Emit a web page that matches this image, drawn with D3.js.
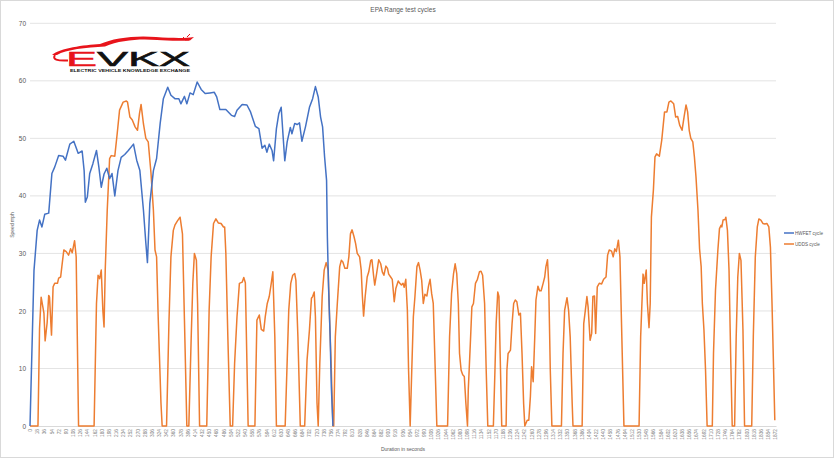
<!DOCTYPE html>
<html>
<head>
<meta charset="utf-8">
<script src="https://cdn.jsdelivr.net/npm/d3@7"></script>
<style>
  body { margin: 0; background: #fff; }
  text { font-family: "Liberation Sans", Arial, sans-serif; }
</style>
</head>
<body>
<div id="chart"></div>
<script>
// values: [seconds, mph]
const hwfet = [
  [0,0],[10,27],[18,34],[24,35.8],[30,34.6],[37,36.8],[47,37],[55,43.9],[62,45],[72,47],[83,46.9],[89,46.2],
  [100,49],[110,49.5],[121,47.4],[131,47.8],[136,44.4],[139,38.9],[144,39.8],[150,43.9],[158,45.6],[167,47.9],
  [173,45],[179,41.5],[186,43.8],[193,44.8],[200,43],[206,43.9],[213,40],[221,44.4],[229,46.7],[238,47.2],
  [247,47.9],[260,49],[268,46.2],[276,44.4],[285,37.5],[291,31.8],[295,28.4],[301,38.7],[310,44.4],[318,46.5],
  [327,52.6],[335,56.9],[346,58.9],[354,57.5],[364,56.9],[374,56.9],[379,56],[388,57.3],[394,56],[402,57.9],
  [410,57.6],[420,59.8],[430,58.5],[440,57.8],[452,57.9],[463,58],[469,57.2],[477,55],[492,55],[506,54],
  [514,53.8],[520,54.9],[533,55.9],[545,55.8],[554,54.6],[566,52.1],[575,51.7],[583,48.3],[590,48.8],[595,47.6],
  [601,49],[608,47.9],[612,46.1],[619,51.7],[625,54.3],[631,55.4],[636,50.2],[640,46.1],[646,49.4],[654,51.9],
  [658,50.8],[665,52.6],[671,52.4],[677,52.7],[683,49.5],[692,52],[702,55.4],[710,56.9],[717,59],[724,57.2],
  [730,53.7],[735,52],[740,46.8],[745,42.7],[747,32.9],[750,24.2],[754,15.5],[757,6.8],[761,0]
];

const udds = [
  [0,0],[20,0],[24,17],[28,22.4],[35,19.6],[38,14.8],[43,17.9],[47,22.7],[49,22.4],[54,15.8],[58,24.2],[62,24.8],
  [69,24.8],[72,25.7],[77,25.9],[80,27.7],[85,30.6],[91,30.3],[97,29.7],[102,30.8],[106,30.1],[112,32.2],[116,29.4],
  [122,0],[161,0],[167,21.3],[171,26.2],[175,25.6],[179,27.1],[183,20.1],[186,17.2],[189,27.1],[194,37.5],[200,46.5],
  [204,47],[213,46.9],[219,50.8],[225,54.9],[234,56.3],[242,56.5],[245,56.3],[251,53.7],[257,53.2],[264,52],
  [270,51.4],[275,54.3],[279,55.9],[285,52.5],[291,50],[297,49.4],[304,43.9],[310,37.5],[314,30.6],[318,29.4],
  [322,19],[329,4],[332,0],[343,0],[349,17.9],[354,29.4],[360,34],[364,34.9],[370,35.6],[377,36.3],[383,33.4],
  [388,18.4],[394,0],[399,0],[405,15.5],[409,24.8],[413,30],[418,28.8],[421,21.3],[426,0],[444,0],[450,20.1],
  [455,29.4],[461,35.2],[467,36],[473,35.3],[480,35.2],[486,34.6],[489,34.6],[492,30],[497,15.5],[503,0],[509,0],
  [514,10.9],[520,19],[526,24.8],[533,25],[537,25.8],[541,24.9],[548,0],[565,0],[570,18.4],[576,19.3],[581,16.8],
  [587,16.5],[591,19],[596,21.3],[601,22.5],[606,24.8],[610,26.8],[615,15.5],[619,0],[641,0],[650,20.1],[655,24.8],
  [660,26.2],[665,26.5],[668,25.3],[673,15.5],[679,0],[690,0],[696,11.5],[702,16.7],[707,22.2],[710,22.5],
  [714,23.3],[717,19],[721,4],[724,0],[728,10.9],[734,22.5],[739,27.1],[744,28.4],[749,27.1],[753,17.8],[757,9.7],
  [761,0],[763,0],[767,15.5],[772,21.3],[778,27.7],[782,28.8],[786,28.5],[791,27.4],[797,27.4],[801,29.4],
  [805,33.4],[809,34.1],[814,32.9],[818,31.7],[822,30],[828,29.4],[832,27.1],[835,22.5],[838,19.1],[842,22.5],
  [847,25.9],[851,26.8],[856,28.8],[859,28.9],[863,26.2],[866,24.5],[870,26.2],[876,28.9],[881,28.2],[885,26.8],
  [889,26.2],[894,27.8],[898,27.4],[901,26.4],[906,25.9],[910,25.5],[915,21.6],[919,23.9],[925,25.2],[929,24.8],
  [933,24.5],[937,24.8],[940,24.1],[944,25.5],[948,20.1],[951,9.7],[955,0],[959,9.7],[963,19],[967,22.5],
  [972,27.7],[976,28.4],[980,27.1],[984,25.3],[988,21.3],[992,22.9],[997,22.6],[1001,24.3],[1005,25.5],[1009,23],
  [1013,21.3],[1018,9.7],[1022,0],[1049,0],[1054,15.5],[1059,23],[1064,26.5],[1068,28.2],[1072,26.5],[1076,21.3],
  [1079,12.6],[1083,9.7],[1087,8.9],[1091,8.6],[1095,3.9],[1099,0],[1101,6.3],[1106,14.1],[1110,20.7],[1114,21.3],
  [1119,24.8],[1124,25.5],[1129,26.8],[1133,26.9],[1137,26.2],[1142,21.3],[1146,9.7],[1150,0],[1164,0],[1168,9.7],
  [1171,17.8],[1175,23.3],[1178,22.5],[1181,12.6],[1185,0],[1196,0],[1198,9.7],[1201,12.6],[1207,13.2],[1211,17.8],
  [1215,21.3],[1219,21.9],[1223,21.6],[1228,19.3],[1232,19.6],[1236,12.6],[1240,3.9],[1243,0],[1249,1],[1253,1],
  [1257,5.1],[1260,10.3],[1264,7.7],[1268,15.5],[1271,21.9],[1276,24.3],[1280,23.5],[1284,23.5],[1289,24.8],
  [1293,25.9],[1296,27.7],[1300,28.9],[1303,24.8],[1307,9.7],[1311,0],[1335,0],[1339,12.6],[1343,20.1],[1349,22.3],
  [1353,20.1],[1357,15.5],[1362,3.9],[1364,0],[1387,0],[1391,17.8],[1395,20.1],[1399,22.5],[1402,20.7],[1407,14.9],
  [1411,16.1],[1414,22.5],[1418,22.6],[1421,16.1],[1425,24.2],[1430,24.8],[1436,24.7],[1441,25.5],[1447,25.9],
  [1451,29.7],[1455,30.6],[1461,30.4],[1465,29.4],[1469,30.8],[1473,30.3],[1478,32.3],[1482,29.4],[1492,0],
  [1530,0],[1534,15.5],[1540,26.4],[1543,24.8],[1548,27.1],[1551,21.3],[1555,17.1],[1558,21.3],[1561,36.3],
  [1566,41],[1570,46.8],[1574,47.3],[1581,46.9],[1587,49.7],[1594,54.6],[1600,54.6],[1605,56.3],[1610,56.5],
  [1617,56],[1622,53.7],[1627,53.8],[1632,52.3],[1638,51.4],[1643,53.7],[1648,55.8],[1652,54.6],[1656,51.4],
  [1660,50],[1665,49.4],[1669,46.8],[1673,43.3],[1678,37.5],[1682,30.8],[1686,27.7],[1689,21.3],[1693,16.7],
  [1697,9.7],[1701,0],[1714,0],[1717,12.6],[1722,23.6],[1728,30.6],[1732,34.3],[1736,34.9],[1738,34.6],[1741,35.8],
  [1746,35.9],[1748,36.3],[1752,34],[1756,27.1],[1760,12.6],[1764,0],[1770,0],[1774,15.5],[1778,25.9],[1782,30],
  [1786,28.8],[1791,16.7],[1795,0],[1813,0],[1817,15.5],[1822,29.4],[1827,34.6],[1831,36],[1836,35.8],[1841,35.2],
  [1846,35.1],[1851,35.2],[1856,34.6],[1860,31.1],[1864,21.3],[1868,9.7],[1871,1]
];

const seriesNames = ["HWFET cycle", "UDDS cycle"];
const seriesColors = ["#4472C4", "#ED7D31"];
const yTicks = [0, 10, 20, 30, 40, 50, 60, 70];
const xTicks = d3.range(0, 1873, 18);   // category labels every 18 s

const W = 835, H = 460;
const plot = { left: 30, right: 776, top: 23.3, bottom: 426 };

const svg = d3.select("#chart").append("svg")
  .attr("width", W).attr("height", H);

svg.append("rect")
  .attr("x", 0.5).attr("y", 0.5).attr("width", W - 2).attr("height", H - 3)
  .attr("fill", "#fff").attr("stroke", "#d9d9d9");

const x = d3.scaleLinear().domain([0, 1874]).range([plot.left, plot.right]);
const y = d3.scaleLinear().domain([0, 70]).range([plot.bottom, plot.top]);

// gridlines
svg.append("g")
  .selectAll("line")
  .data(yTicks.slice(1))
  .enter().append("line")
  .attr("x1", plot.left).attr("x2", plot.right)
  .attr("y1", d => y(d)).attr("y2", d => y(d))
  .attr("stroke", "#d9d9d9").attr("stroke-width", 0.75);

// y axis labels
const yAxis = svg.append("g")
  .attr("transform", "translate(" + (plot.left - 4) + ",0)")
  .call(d3.axisLeft(y).tickValues(yTicks).tickSize(0).tickPadding(0));
yAxis.select(".domain").remove();
yAxis.selectAll("text").attr("fill", "#595959").style("font-size", "6.5px");

// x axis
const xAxis = svg.append("g")
  .attr("transform", "translate(0," + plot.bottom + ")")
  .call(d3.axisBottom(x).tickValues(xTicks).tickSize(0).tickFormat(d3.format("d")));
xAxis.select(".domain").attr("stroke", "#d9d9d9");
xAxis.selectAll("text")
  .attr("fill", "#7f7f7f")
  .style("font-size", "4.8px")
  .attr("text-anchor", "end")
  .attr("dy", "0.32em")
  .attr("transform", "rotate(-90)")
  .attr("x", -3).attr("y", 0);

// lines
const line = d3.line().x(d => x(d[0])).y(d => y(d[1]));
[udds, hwfet].forEach((series, i) => {
  svg.append("path")
    .datum(series)
    .attr("fill", "none")
    .attr("stroke", i === 0 ? seriesColors[1] : seriesColors[0])
    .attr("stroke-width", 1.5)
    .attr("stroke-linejoin", "round")
    .attr("d", line);
});

// title and axis titles
svg.append("text")
  .attr("x", 403).attr("y", 12)
  .attr("text-anchor", "middle").attr("fill", "#595959")
  .style("font-size", "6.5px")
  .text("EPA Range test cycles");

svg.append("text")
  .attr("transform", "translate(14,225) rotate(-90)")
  .attr("text-anchor", "middle").attr("fill", "#595959")
  .style("font-size", "5px")
  .text("Speed mph");

svg.append("text")
  .attr("x", 403).attr("y", 451)
  .attr("text-anchor", "middle").attr("fill", "#595959")
  .style("font-size", "5px")
  .text("Duration in seconds");

// legend
const legend = svg.append("g");
seriesNames.forEach((name, i) => {
  const ly = 233 + i * 11;
  legend.append("line")
    .attr("x1", 784).attr("x2", 794).attr("y1", ly).attr("y2", ly)
    .attr("stroke", seriesColors[i]).attr("stroke-width", 1.5);
  legend.append("text")
    .attr("x", 795).attr("y", ly).attr("dy", "0.35em")
    .attr("fill", "#595959").style("font-size", "4.6px")
    .text(name);
});

// EVKX logo
const logo = svg.append("g");
logo.append("path")
  .attr("d", "M52,55 C60,48 84,45 100,44 C113,38 136,35 156,37 C172,38 184,38.5 194,37 L190,40.5 C176,41 166,40.5 157,40 C140,38.5 120,40 105,46.5 C86,47.5 66,49.5 57,55 Z")
  .attr("fill", "#e8141b");
logo.append("path")
  .attr("d", "M55,55 C52,59.5 57,61 68,60.5")
  .attr("fill", "none").attr("stroke", "#e8141b").attr("stroke-width", 2);
logo.append("path")
  .attr("d", "M185,40 L189,40 M181,40 L184,37 M187,37 L190,34")
  .attr("stroke", "#e8141b").attr("stroke-width", 1);
const logoText = logo.append("text")
  .attr("x", 66).attr("y", 66)
  .attr("textLength", 124).attr("lengthAdjust", "spacingAndGlyphs")
  .style("font-size", "20px").style("stroke-width", "0.5px");
logoText.append("tspan").attr("fill", "#e8141b").attr("stroke", "#e8141b").text("E");
logoText.append("tspan").attr("fill", "#111").attr("stroke", "#111").text("VKX");
logo.append("text")
  .attr("x", 70).attr("y", 71.5)
  .attr("textLength", 120).attr("lengthAdjust", "spacingAndGlyphs")
  .attr("fill", "#111")
  .style("font-size", "3.6px").style("font-weight", "bold")
  .text("ELECTRIC VEHICLE KNOWLEDGE EXCHANGE");
</script>
</body>
</html>
